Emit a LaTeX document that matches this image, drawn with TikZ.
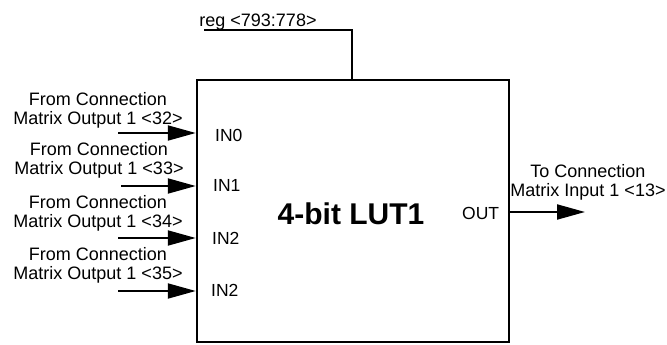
\documentclass[tikz,border=0pt]{standalone}
\usepackage{fontspec}
\setmainfont{Liberation Sans}
\usetikzlibrary{arrows.meta}
\begin{document}
\begin{tikzpicture}[x=1pt,y=-1pt,
  lbl/.style={font=\fontsize{18}{19}\selectfont, align=center, inner sep=0pt},
  pin/.style={font=\fontsize{17.5}{19}\selectfont, inner sep=0pt, anchor=west},
  wire/.style={line width=2pt},
  sig/.style={line width=2pt, -{Triangle[length=28pt,width=15pt]}}]
\useasboundingbox (0,0) rectangle (667,345);
\node[draw, line width=2.5pt, minimum width=312pt, minimum height=262pt, inner sep=0pt] (lut) at (353,211) {};
\node[font=\bfseries\fontsize{30}{32}\selectfont, inner sep=0pt] (title) at (351,214) {4-bit LUT1};
% register line
\node[lbl, anchor=base] (reg) at (258,26.4) {reg <793:778>};
\coordinate (r0) at (204,30);
\coordinate (rt) at (352,80);
\draw[wire] (r0) -| (rt);
% inputs
\node[lbl] (l0) at (98,110) {From Connection\\Matrix Output 1 <32>};
\node[lbl] (l1) at (99,160.5) {From Connection\\Matrix Output 1 <33>};
\node[lbl] (l2) at (98,213.5) {From Connection\\Matrix Output 1 <34>};
\node[lbl] (l3) at (98,265) {From Connection\\Matrix Output 1 <35>};
\coordinate (i0) at (118,133);
\coordinate (i1) at (121,186);
\coordinate (i2) at (118,238);
\coordinate (i3) at (118,291);
\draw[sig] (i0) -- (lut.west |- i0);
\draw[sig] (i1) -- (lut.west |- i1);
\draw[sig] (i2) -- (lut.west |- i2);
\draw[sig] (i3) -- (lut.west |- i3);
\node[pin] (p0) at (215,135) {IN0};
\node[pin] (p1) at (213,185) {IN1};
\node[pin] (p2) at (212,238) {IN2};
\node[pin] (p3) at (211,290) {IN2};
% output
\node[pin] (pout) at (462,213) {OUT};
\coordinate (o) at (585,212);
\draw[sig] (lut.east |- o) -- (o);
\node[lbl] (lo) at (588,182) {To Connection\\Matrix Input 1 <13>};
\end{tikzpicture}
\end{document}
